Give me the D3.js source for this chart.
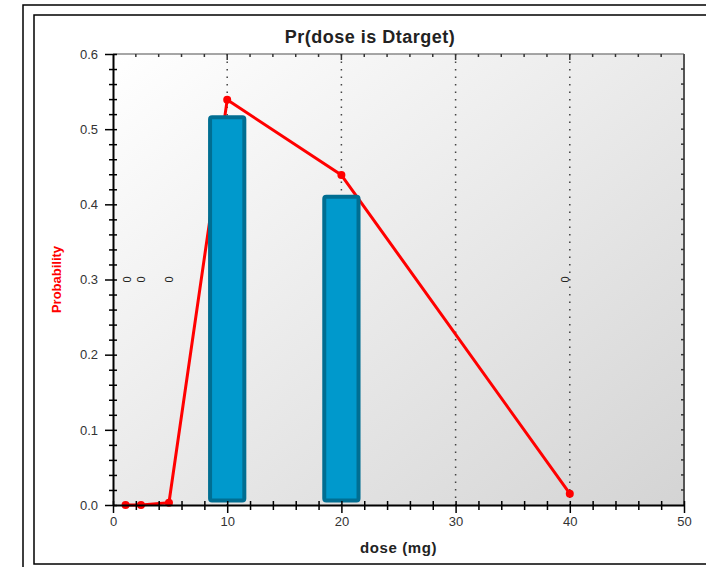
<!DOCTYPE html>
<html>
<head>
<meta charset="utf-8">
<script src="https://cdn.jsdelivr.net/npm/d3@7/dist/d3.min.js"></script>
<style>
  html, body { margin: 0; padding: 0; background: #fff; }
  svg { display: block; font-family: "Liberation Sans", Arial, sans-serif; }
</style>
</head>
<body>
<div id="chart"></div>
<script>
    'use strict';

    // dose levels where the probability curve was evaluated
    var lineDoses = [1.1, 2.45, 4.9, 10, 20, 40];
    var lineProbs = [0.0, 0.0, 0.003, 0.539, 0.439, 0.015];

    // bars at the target doses
    var barDoses = [10, 20];
    var barProbs = [0.516, 0.41];
    var barBase = 0.006;

    // small "0" annotations on the 0.3 level
    var markDoses = [1.2, 2.5, 4.9, 39.6];
    var markProb = 0.3;

    var gridDoses = [10, 20, 30, 40];
    var xTicks = [0, 10, 20, 30, 40, 50];
    var yTicks = [0.0, 0.1, 0.2, 0.3, 0.4, 0.5, 0.6];

    var width = 706, height = 567;
    var margin = { left: 113, right: 22, top: 54, bottom: 62 };

    var svg = d3.select('#chart').append('svg')
        .attr('width', width)
        .attr('height', height);

    // outer frames
    svg.append('rect')
        .attr('x', 23).attr('y', 5)
        .attr('width', 700).attr('height', 600)
        .attr('fill', 'none').attr('stroke', '#000').attr('stroke-width', 1.5);
    svg.append('rect')
        .attr('x', 34).attr('y', 15)
        .attr('width', 690).attr('height', 549)
        .attr('fill', '#fff').attr('stroke', '#000').attr('stroke-width', 1.5);

    var x = d3.scaleLinear().domain([0, 50]).range([margin.left, width - margin.right]);
    var y = d3.scaleLinear().domain([0, 0.6]).range([height - margin.bottom, margin.top]);

    var isMajorY = function(d) {
        return yTicks.some(function(t) { return Math.abs(t - d) < 1e-6; });
    };

    var defs = svg.append('defs');
    var grad = defs.append('linearGradient')
        .attr('id', 'plotBg')
        .attr('x1', '0%').attr('y1', '0%')
        .attr('x2', '100%').attr('y2', '100%');
    grad.append('stop').attr('offset', '0%').attr('stop-color', '#ffffff');
    grad.append('stop').attr('offset', '100%').attr('stop-color', '#d4d4d4');

    svg.append('rect')
        .attr('x', x(0)).attr('y', y(0.6))
        .attr('width', x(50) - x(0)).attr('height', y(0) - y(0.6))
        .attr('fill', 'url(#plotBg)');

    // top and right edges of plot
    svg.append('line')
        .attr('x1', x(0)).attr('x2', x(50))
        .attr('y1', y(0.6)).attr('y2', y(0.6))
        .attr('stroke', '#888').attr('stroke-width', 1.5);
    svg.append('line')
        .attr('x1', x(50)).attr('x2', x(50))
        .attr('y1', y(0.6)).attr('y2', y(0))
        .attr('stroke', '#555').attr('stroke-width', 2);

    // dotted verticals
    svg.append('g').selectAll('line')
        .data(gridDoses)
        .join('line')
        .attr('x1', function(d) { return x(d); })
        .attr('x2', function(d) { return x(d); })
        .attr('y1', y(0.6)).attr('y2', y(0))
        .attr('stroke', '#444')
        .attr('stroke-width', 1.5)
        .attr('stroke-dasharray', '1.5,6');

    // top and right inner ticks
    var xMinor = d3.range(0, 50.01, 2);
    var yMinor = d3.range(0, 0.601, 0.02);
    svg.append('g').selectAll('line')
        .data(xMinor.slice(1, -1))
        .join('line')
        .attr('x1', function(d) { return x(d); })
        .attr('x2', function(d) { return x(d); })
        .attr('y1', y(0.6)).attr('y2', function(d) { return y(0.6) + (d % 10 === 0 ? 6 : 3); })
        .attr('stroke', '#333').attr('stroke-width', 1.5);
    svg.append('g').selectAll('line')
        .data(yMinor.slice(1, -1))
        .join('line')
        .attr('x1', x(50)).attr('x2', x(50) - 3)
        .attr('y1', function(d) { return y(d); })
        .attr('y2', function(d) { return y(d); })
        .attr('stroke', '#333').attr('stroke-width', 1.5);

    // probability line (drawn under the bars)
    var pts = lineDoses.map(function(d, i) { return [d, lineProbs[i]]; });
    svg.append('path')
        .datum(pts)
        .attr('fill', 'none')
        .attr('stroke', '#ff0000')
        .attr('stroke-width', 3)
        .attr('stroke-linejoin', 'round')
        .attr('d', d3.line()
            .x(function(d) { return x(d[0]); })
            .y(function(d) { return y(d[1]); }));

    // bars
    var barHalf = 1.5;
    svg.append('g').selectAll('rect')
        .data(barDoses)
        .join('rect')
        .attr('x', function(d) { return x(d - barHalf); })
        .attr('width', x(barHalf * 2) - x(0))
        .attr('y', function(d, i) { return y(barProbs[i]); })
        .attr('height', function(d, i) { return y(barBase) - y(barProbs[i]); })
        .attr('rx', 2)
        .attr('fill', '#0099cc')
        .attr('stroke', '#006e92')
        .attr('stroke-width', 4);

    svg.append('g').selectAll('circle')
        .data(pts)
        .join('circle')
        .attr('cx', function(d) { return x(d[0]); })
        .attr('cy', function(d) { return y(d[1]); })
        .attr('r', 4)
        .attr('fill', '#ff0000');

    // "0" annotations
    svg.append('g').selectAll('text')
        .data(markDoses)
        .join('text')
        .attr('transform', function(d) {
            return 'translate(' + x(d) + ',' + y(markProb) + ') rotate(-90)';
        })
        .attr('text-anchor', 'middle')
        .attr('dy', '0.35em')
        .attr('font-size', 11)
        .attr('fill', '#222')
        .text('0');

    // axes
    var xAxis = d3.axisBottom(x).tickValues(xMinor).tickSize(0)
        .tickFormat(function(d) { return xTicks.indexOf(d) >= 0 ? d : ''; });
    var gx = svg.append('g')
        .attr('transform', 'translate(0,' + y(0) + ')')
        .call(xAxis);
    gx.select('.domain').attr('stroke', '#000').attr('stroke-width', 2);
    gx.selectAll('.tick line')
        .attr('y1', -4)
        .attr('y2', function(d) { return xTicks.indexOf(d) >= 0 ? 8 : 5; })
        .attr('stroke', '#000').attr('stroke-width', 1.5);
    gx.selectAll('.tick text')
        .attr('y', 12)
        .attr('font-size', 13)
        .attr('fill', '#333');

    var yAxis = d3.axisLeft(y).tickValues(yMinor).tickSize(0)
        .tickFormat(function(d) { return isMajorY(d) ? d3.format('.1f')(d) : ''; });
    var gy = svg.append('g')
        .attr('transform', 'translate(' + x(0) + ',0)')
        .call(yAxis);
    gy.select('.domain').attr('stroke', '#000').attr('stroke-width', 2);
    gy.selectAll('.tick line')
        .attr('x1', 4)
        .attr('x2', function(d) { return isMajorY(d) ? -8 : -4; })
        .attr('stroke', '#000').attr('stroke-width', 1.5);
    gy.selectAll('.tick text')
        .attr('x', -15)
        .attr('font-size', 13)
        .attr('fill', '#333');

    // titles
    svg.append('text')
        .attr('x', 370).attr('y', 43)
        .attr('text-anchor', 'middle')
        .attr('font-weight', 'bold')
        .attr('font-size', 18)
        .attr('letter-spacing', 0.5)
        .attr('fill', '#222')
        .text('Pr(dose is Dtarget)');

    svg.append('text')
        .attr('x', (x(0) + x(50)) / 2).attr('y', 553)
        .attr('text-anchor', 'middle')
        .attr('font-weight', 'bold')
        .attr('font-size', 15)
        .attr('letter-spacing', 0.6)
        .attr('fill', '#222')
        .text('dose (mg)');

    svg.append('text')
        .attr('transform', 'translate(61,' + y(0.3) + ') rotate(-90)')
        .attr('text-anchor', 'middle')
        .attr('font-weight', 'bold')
        .attr('font-size', 13)
        .attr('fill', '#ff0000')
        .text('Probability');
</script>
</body>
</html>
